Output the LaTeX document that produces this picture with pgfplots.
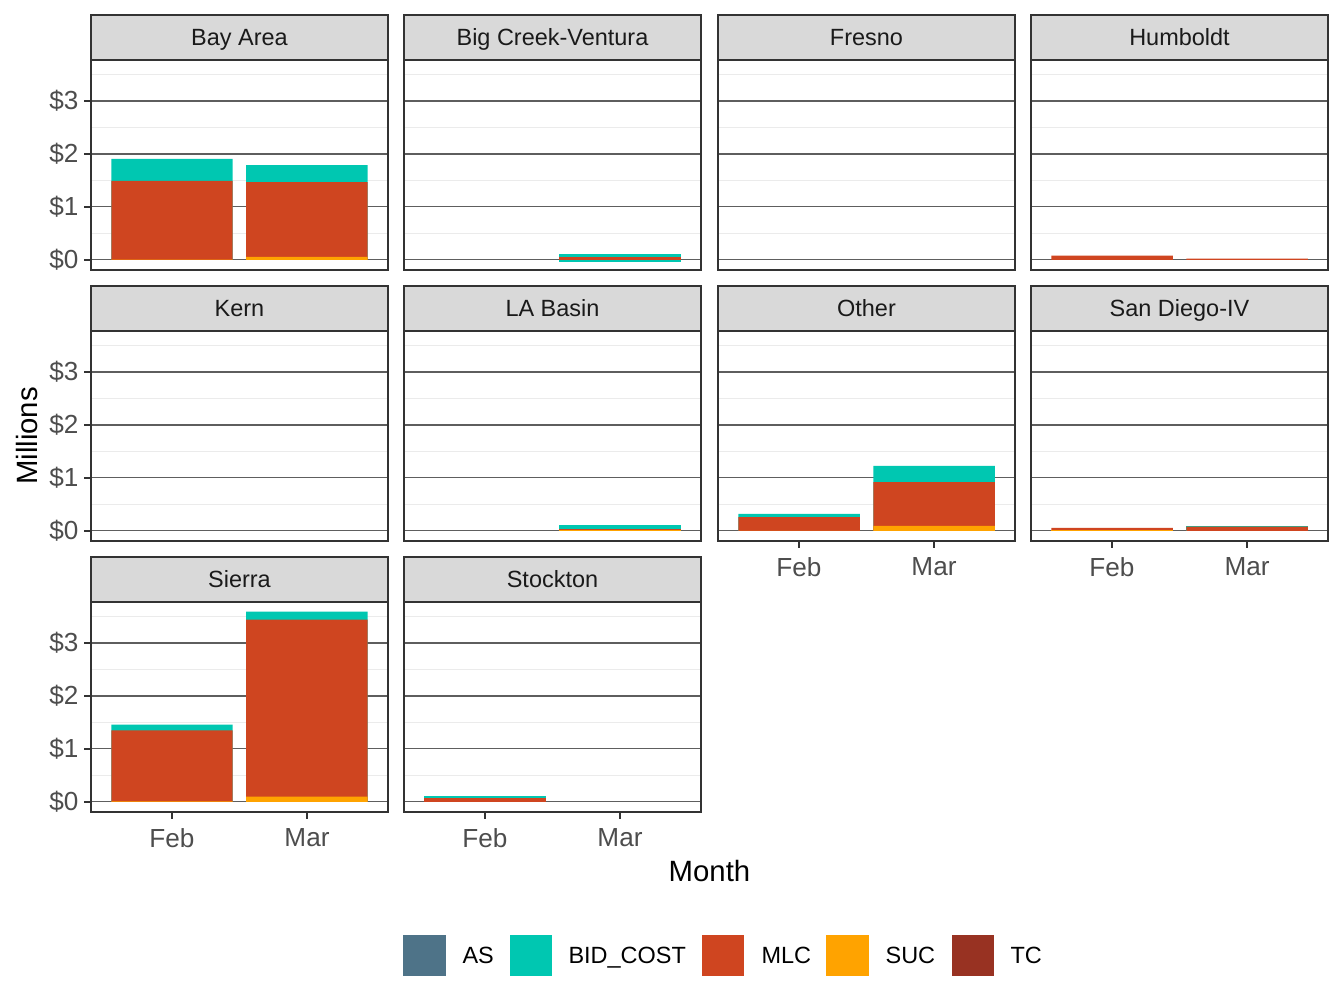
\documentclass[border=0pt]{standalone}
\usepackage{pgfplots}
\pgfplotsset{compat=1.18}
\usepackage{fontspec}
\setmainfont{Liberation Sans}
\definecolor{cAS}{HTML}{4E7388}
\definecolor{cBID}{HTML}{00C7B1}
\definecolor{cMLC}{HTML}{CF4520}
\definecolor{cSUC}{HTML}{FFA300}
\definecolor{cTC}{HTML}{983222}
\definecolor{stripfill}{HTML}{D9D9D9}
\definecolor{border}{HTML}{333333}
\definecolor{ticktext}{HTML}{4D4D4D}
\definecolor{striptext}{HTML}{1A1A1A}
\definecolor{majorgrid}{HTML}{5E5E5E}
\definecolor{minorgrid}{HTML}{EBEBEB}
\pgfplotsset{
 panel/.style={
  width=111.375pt, height=78.75pt, scale only axis, anchor=south west,
  xmin=0.4, xmax=2.6, ymin=-0.19, ymax=3.774,
  ytick={0,1,2,3}, minor ytick={0.5,1.5,2.5,3.5},
  ymajorgrids, yminorgrids,
  major grid style={draw=majorgrid, line width=0.4pt},
  minor grid style={draw=minorgrid, line width=0.5pt},
  xtick={1,2},
  xtick pos=bottom, ytick pos=left,
  axis line style={draw=border, line width=0.6pt},
  tick align=outside, major tick length=2.6pt, minor tick length=0pt,
  minor tick style={draw=none},
  xticklabels={}, yticklabels={},
  xtick style={draw=none}, ytick style={draw=none},
  yticklabel style={xshift=1.4pt},
  tick label style={font=\fontsize{9.8}{10}\selectfont, text=ticktext},
  clip=true,
 },
 ylab/.style={yticklabels={\$0,\$1,\$2,\$3}, ytick style={draw=border, line width=0.6pt}},
 xlab/.style={xticklabels={Feb,Mar}, xtick style={draw=border, line width=0.6pt}},
 seg/.style={ybar, bar width=0.9, bar shift=0pt, draw=none, fill=#1},
}
\newcommand{\strip}[2]{%
 \draw[fill=stripfill, draw=border, line width=0.6pt] (#1.north west) rectangle ([yshift=16.875pt]#1.north east);
 \node[anchor=base, inner sep=0pt, font=\fontsize{8.8}{10}\selectfont, text=striptext] at ([yshift=5.3pt]#1.north) {#2};}
\begin{document}
\begin{tikzpicture}
\useasboundingbox (0,0) rectangle (504pt,378pt);
% Row 1
\begin{axis}[panel, ylab, name=p1, at={(34.125pt,276.75pt)}]
\addplot[seg=cBID] coordinates {(1,1.906) (2,1.79)};
\addplot[seg=cMLC] coordinates {(1,1.49) (2,1.47)};
\addplot[seg=cSUC] coordinates {(1,0.004) (2,0.057)};
\end{axis}
\strip{p1}{Bay Area}
\begin{axis}[panel, name=p2, at={(151.5pt,276.75pt)}]
\addplot[seg=cBID] coordinates {(2,0.12)};
\addplot[seg=cMLC] coordinates {(2,0.06)};
\addplot[seg=cBID] coordinates {(2,-0.045)};
\end{axis}
\strip{p2}{Big Creek-Ventura}
\begin{axis}[panel, name=p3, at={(269.25pt,276.75pt)}]
\end{axis}
\strip{p3}{Fresno}
\begin{axis}[panel, name=p4, at={(386.625pt,276.75pt)}]
\addplot[seg=cMLC] coordinates {(1,0.08) (2,0.025)};
\end{axis}
\strip{p4}{Humboldt}
% Row 2
\begin{axis}[panel, ylab, name=p5, at={(34.125pt,175.125pt)}]
\end{axis}
\strip{p5}{Kern}
\begin{axis}[panel, name=p6, at={(151.5pt,175.125pt)}]
\addplot[seg=cBID] coordinates {(2,0.12)};
\addplot[seg=cMLC] coordinates {(2,0.045)};
\addplot[seg=cSUC] coordinates {(2,0.015)};
\end{axis}
\strip{p6}{LA Basin}
\begin{axis}[panel, xlab, name=p7, at={(269.25pt,175.125pt)}]
\addplot[seg=cBID] coordinates {(1,0.32) (2,1.23)};
\addplot[seg=cMLC] coordinates {(1,0.26) (2,0.92)};
\addplot[seg=cSUC] coordinates {(1,0.003) (2,0.095)};
\end{axis}
\strip{p7}{Other}
\begin{axis}[panel, xlab, name=p8, at={(386.625pt,175.125pt)}]
\addplot[seg=cBID] coordinates {(2,0.1)};
\addplot[seg=cMLC] coordinates {(1,0.06) (2,0.08)};
\addplot[seg=cSUC] coordinates {(1,0.01)};
\end{axis}
\strip{p8}{San Diego-IV}
% Row 3
\begin{axis}[panel, ylab, xlab, name=p9, at={(34.125pt,73.5pt)}]
\addplot[seg=cBID] coordinates {(1,1.46) (2,3.59)};
\addplot[seg=cMLC] coordinates {(1,1.35) (2,3.44)};
\addplot[seg=cSUC] coordinates {(1,0.012) (2,0.1)};
\end{axis}
\strip{p9}{Sierra}
\begin{axis}[panel, xlab, name=p10, at={(151.5pt,73.5pt)}]
\addplot[seg=cBID] coordinates {(1,0.105)};
\addplot[seg=cMLC] coordinates {(1,0.08)};
\end{axis}
\strip{p10}{Stockton}
% Axis titles
\node[rotate=90, font=\fontsize{11}{12}\selectfont] at (10.125pt,214.5pt) {Millions};
\node[font=\fontsize{11}{12}\selectfont] at (266.06pt,51.375pt) {Month};
% Legend
\fill[cAS] (151.125pt,12pt) rectangle (167.25pt,27.4pt);
\node[anchor=base west, inner sep=0pt, font=\fontsize{8.8}{10}\selectfont] at (173.25pt,16.55pt) {AS};
\fill[cBID] (191.25pt,12pt) rectangle (207pt,27.4pt);
\node[anchor=base west, inner sep=0pt, font=\fontsize{8.8}{10}\selectfont] at (213pt,16.55pt) {BID\_COST};
\fill[cMLC] (263.25pt,12pt) rectangle (279pt,27.4pt);
\node[anchor=base west, inner sep=0pt, font=\fontsize{8.8}{10}\selectfont] at (285.4pt,16.55pt) {MLC};
\fill[cSUC] (309.75pt,12pt) rectangle (325.9pt,27.4pt);
\node[anchor=base west, inner sep=0pt, font=\fontsize{8.8}{10}\selectfont] at (331.9pt,16.55pt) {SUC};
\fill[cTC] (357pt,12pt) rectangle (372.75pt,27.4pt);
\node[anchor=base west, inner sep=0pt, font=\fontsize{8.8}{10}\selectfont] at (378.75pt,16.55pt) {TC};
\end{tikzpicture}
\end{document}
